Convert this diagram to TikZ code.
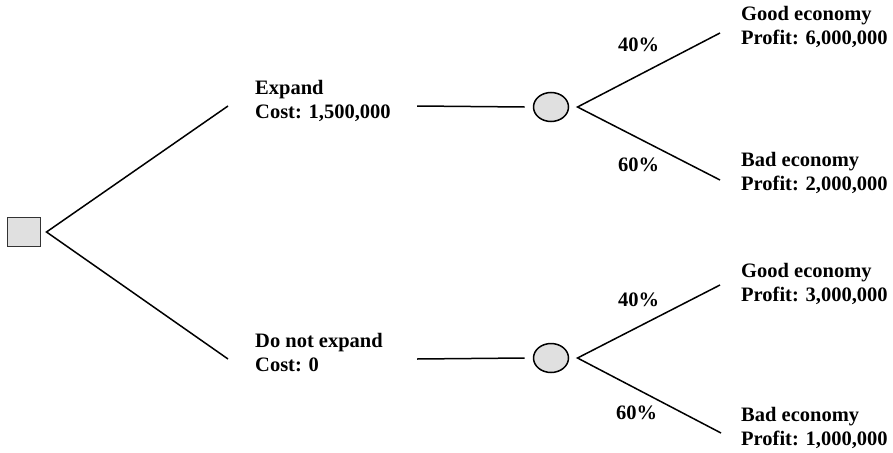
\documentclass[tikz,border=0pt]{standalone}
\usepackage{fontspec}
\setmainfont{Liberation Serif}
\usetikzlibrary{shapes.geometric, positioning}

\begin{document}
\begin{tikzpicture}[
      x=1pt, y=-1pt,
      every node/.style={font=\bfseries\fontsize{20.5}{24}\selectfont},
      label/.style={anchor=base west, inner sep=0pt, align=left},
      decision/.style={draw=black!80, line width=1.8pt, fill=black!12, rectangle, minimum width=33, minimum height=29, outer sep=6pt},
      chance/.style={draw, line width=1.5pt, fill=black!12, ellipse, minimum width=35, minimum height=29, outer sep=9pt},
      branch/.style={line width=1.5pt}
    ]
    \useasboundingbox (0,0) rectangle (893,452);

    % Nodes
    \node[decision] (dec) at (24,232) {};
    \node[chance] (chup) at (551,107) {};
    \node[chance] (chdn) at (551,358) {};

    \coordinate (expend) at (228,106);
    \coordinate (noend) at (228,359);
    \coordinate (exline) at (417,106);
    \coordinate (noline) at (417,359);
    \coordinate (goodup) at (720,33);
    \coordinate (badup) at (720,180);
    \coordinate (gooddn) at (720,285);
    \coordinate (baddn) at (721,433);

    % Labels (anchored at the baseline of the last line)
    \node[label] (expand) at (255,118) {Expand\\Cost: 1,500,000};
    \node[label] (noexpand) at (255,371) {Do not expand\\Cost: 0};
    \node[label] (pgoodup) at (618,52) {40\%};
    \node[label] (pbadup) at (618,171) {60\%};
    \node[label] (pgooddn) at (618,306) {40\%};
    \node[label] (pbaddn) at (616,419) {60\%};
    \node[label] (outgoodup) at (741,45) {Good economy\\Profit: 6,000,000};
    \node[label] (outbadup) at (741,190) {Bad economy\\Profit: 2,000,000};
    \node[label] (outgooddn) at (741,301) {Good economy\\Profit: 3,000,000};
    \node[label] (outbaddn) at (741,445) {Bad economy\\Profit: 1,000,000};

    % Branches
    \draw[branch] (expend) -- (dec.east) -- (noend);
    \draw[branch] (exline) -- (chup.west);
    \draw[branch] (noline) -- (chdn.west);
    \draw[branch] (goodup) -- (chup.east) -- (badup);
    \draw[branch] (gooddn) -- (chdn.east) -- (baddn);
\end{tikzpicture}
\end{document}
